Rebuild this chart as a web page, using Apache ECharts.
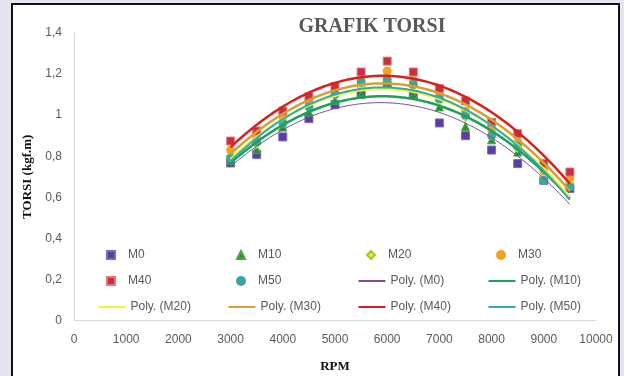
<!DOCTYPE html>
<html>
<head>
<meta charset="utf-8">
<script src="https://cdn.jsdelivr.net/npm/echarts@6/dist/echarts.min.js"></script>
<style>
html,body{margin:0;padding:0;background:#e6e5ef;}
#chart{width:624px;height:376px;}
</style>
</head>
<body>
<div id="chart"></div>
<script>
// ---- data ----
var rpm = [3000, 3500, 4000, 4500, 5000, 5500, 6000, 6500, 7000, 7500, 8000, 8500, 9000, 9500];
var M0  = [0.767, 0.809, 0.894, 0.983, 1.051, 1.104, 1.145, 1.100, 0.962, 0.900, 0.830, 0.764, 0.683, 0.643];
var M10 = [0.780, 0.832, 0.942, 1.015, 1.070, 1.100, 1.160, 1.100, 1.040, 0.945, 0.880, 0.820, 0.690, 0.660];
var M20 = [0.800, 0.860, 0.970, 1.040, 1.100, 1.140, 1.190, 1.140, 1.070, 0.990, 0.900, 0.840, 0.700, 0.670];
var M30 = [0.830, 0.890, 0.990, 1.060, 1.120, 1.170, 1.215, 1.170, 1.100, 1.020, 0.930, 0.870, 0.730, 0.694];
var M40 = [0.874, 0.923, 1.020, 1.090, 1.140, 1.210, 1.263, 1.210, 1.130, 1.069, 0.965, 0.910, 0.764, 0.723];
var M50 = [0.790, 0.870, 0.960, 1.040, 1.100, 1.160, 1.175, 1.150, 1.080, 1.000, 0.900, 0.850, 0.683, 0.650];
var seriesNames = ['M0', 'M10', 'M20', 'M30', 'M40', 'M50'];
var yTicks = [0, 0.2, 0.4, 0.6, 0.8, 1, 1.2, 1.4];
var xTicks = [0, 1000, 2000, 3000, 4000, 5000, 6000, 7000, 8000, 9000, 10000];

// ---- order-2 polynomial trendline (least squares, like Excel "Poly.") ----
function polyFit(xs, ys) {
  var n = xs.length, s = [0,0,0,0,0], t = [0,0,0];
  for (var i = 0; i < n; i++) {
    var x = xs[i] / 1000, p = 1;
    for (var k = 0; k < 5; k++) { s[k] += p; if (k < 3) t[k] += p * ys[i]; p *= x; }
  }
  var A = [[s[0], s[1], s[2], t[0]], [s[1], s[2], s[3], t[1]], [s[2], s[3], s[4], t[2]]];
  for (var c = 0; c < 3; c++) {
    for (var r = c + 1; r < 3; r++) {
      var f = A[r][c] / A[c][c];
      for (var j = c; j < 4; j++) A[r][j] -= f * A[c][j];
    }
  }
  var b = [0,0,0];
  for (var r2 = 2; r2 >= 0; r2--) {
    var v = A[r2][3];
    for (var j2 = r2 + 1; j2 < 3; j2++) v -= A[r2][j2] * b[j2];
    b[r2] = v / A[r2][r2];
  }
  var out = [];
  for (var xx = xs[0]; xx <= xs[xs.length - 1]; xx += 50) {
    var u = xx / 1000;
    out.push([xx, b[0] + b[1] * u + b[2] * u * u]);
  }
  return out;
}

var values = {M0: M0, M10: M10, M20: M20, M30: M30, M40: M40, M50: M50};
var markerStyle = {
  M0:  {symbol: 'rect', size: 8, color: '#5b3da6', border: '#7d68c0'},
  M10: {symbol: 'triangle', size: 8, color: '#2f8f2f', border: '#46a846'},
  M20: {symbol: 'diamond', size: 9, color: '#d6ee4a', border: '#a8c828'},
  M30: {symbol: 'circle', size: 8, color: '#f2a21c', border: '#f2a21c'},
  M40: {symbol: 'rect', size: 8, color: '#c8303e', border: '#e07a80'},
  M50: {symbol: 'circle', size: 8, color: '#3da5a0', border: '#3da5a0'}
};
var lineStyleMap = {
  M0:  {color: '#7a4e96', width: 1},
  M10: {color: '#1ea05a', width: 2.5},
  M20: {color: '#f6f630', width: 2.5},
  M30: {color: '#d6a032', width: 2.5},
  M40: {color: '#d9201e', width: 2.5},
  M50: {color: '#33a8b0', width: 2}
};

var series = [];
seriesNames.forEach(function (nm) {
  var st = lineStyleMap[nm];
  series.push({
    name: 'Poly. (' + nm + ')', type: 'line', smooth: false, symbol: 'none',
    data: polyFit(rpm, values[nm]),
    lineStyle: {color: st.color, width: st.width},
    itemStyle: {color: st.color, opacity: 0, borderWidth: 0},
    z: 3, silent: true
  });
});
seriesNames.forEach(function (nm) {
  var ms = markerStyle[nm];
  series.push({
    name: nm, type: 'scatter', symbol: ms.symbol, symbolSize: ms.size, symbolKeepAspect: true,
    data: rpm.map(function (x, i) { return [x, values[nm][i]]; }),
    itemStyle: {color: ms.color, borderColor: ms.border, borderWidth: 1, opacity: 1},
    z: 2
  });
});

// one legend per item, placed on a 4-column grid
var legendRows = [
  ['M0', 'M10', 'M20', 'M30'],
  ['M40', 'M50', 'Poly. (M0)', 'Poly. (M10)'],
  ['Poly. (M20)', 'Poly. (M30)', 'Poly. (M40)', 'Poly. (M50)']
];
var legendColX = [110, 240, 370, 500];   // icon centres
var legendRowY = [255, 281, 307];        // row centres
var legends = [];
legendRows.forEach(function (row, ri) {
  row.forEach(function (name, ci) {
    var isLine = name.indexOf('Poly') === 0;
    var w = isLine ? 27 : 8;
    legends.push({
      orient: 'horizontal', padding: 0,
      left: (isLine ? legendColX[ci] + 1 : legendColX[ci]) - w / 2, top: legendRowY[ri] - 7,
      itemWidth: w, itemHeight: 8, symbolKeepAspect: true, selectedMode: false,
      data: [name],
      textStyle: {
        fontFamily: 'Liberation Sans, Arial, sans-serif', fontSize: 12, color: '#595959',
        lineHeight: 14, padding: [0, 0, 0, isLine ? 0 : 8]
      }
    });
  });
});

var chart = echarts.init(document.getElementById('chart'), null, {renderer: 'canvas'});
chart.setOption({
  backgroundColor: 'transparent',
  animation: false,
  graphic: [
    {type: 'rect', z: -10, shape: {x: 12, y: 4, width: 607, height: 380},
     style: {fill: '#ffffff', stroke: '#111111', lineWidth: 2}}
  ],
  title: {
    text: 'GRAFIK TORSI', left: 367, top: 12, textAlign: 'center',
    textStyle: {fontFamily: 'Liberation Serif, Times New Roman, serif', fontWeight: 'bold', fontSize: 20, color: '#595959'}
  },
  grid: {left: 74, right: 28, top: 33, bottom: 55.5, containLabel: false, outerBoundsMode: 'none'},
  legend: legends,
  xAxis: {
    type: 'value', min: xTicks[0], max: xTicks[xTicks.length - 1], interval: 1000,
    name: 'RPM', nameLocation: 'middle', nameGap: 40,
    nameTextStyle: {fontFamily: 'Liberation Serif, Times New Roman, serif', fontWeight: 'bold', fontSize: 13, color: '#111'},
    axisLine: {show: true, lineStyle: {color: '#d9d9d9', width: 1}},
    axisTick: {show: false},
    splitLine: {show: false},
    axisLabel: {
      margin: 13, fontFamily: 'Liberation Sans, Arial, sans-serif', fontSize: 12, color: '#595959',
      formatter: function (v) { return String(v); }
    }
  },
  yAxis: {
    type: 'value', min: yTicks[0], max: yTicks[yTicks.length - 1], interval: 0.2,
    name: 'TORSI (kgf.m)', nameLocation: 'middle', nameGap: 40, nameRotate: 90,
    nameTextStyle: {fontFamily: 'Liberation Serif, Times New Roman, serif', fontWeight: 'bold', fontSize: 13, color: '#111'},
    axisLine: {show: true, lineStyle: {color: '#d9d9d9', width: 1}},
    axisTick: {show: false},
    splitLine: {show: false},
    axisLabel: {
      margin: 12, fontFamily: 'Liberation Sans, Arial, sans-serif', fontSize: 12, color: '#595959',
      formatter: function (v) { return String(+v.toFixed(1)).replace('.', ','); }
    }
  },
  series: series
});
</script>
</body>
</html>
